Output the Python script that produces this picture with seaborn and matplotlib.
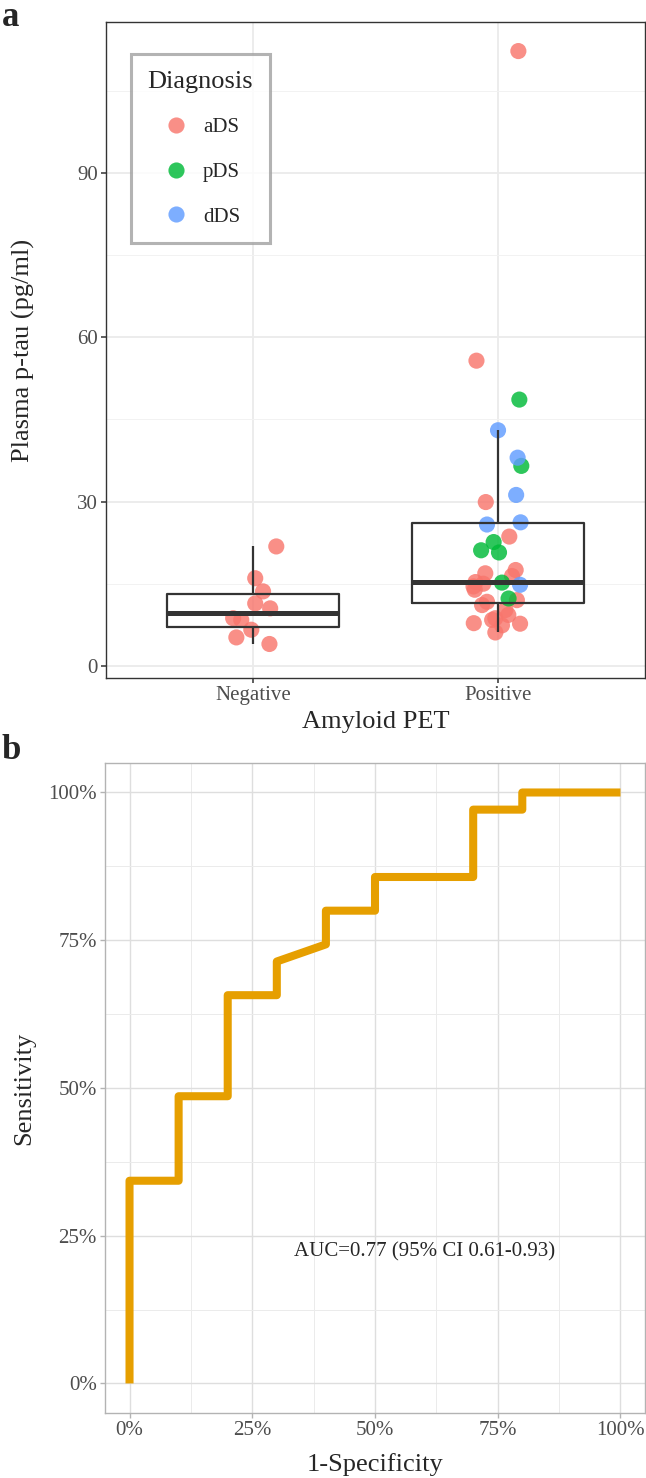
import pandas as pd
import matplotlib
matplotlib.use('Agg')
import matplotlib.pyplot as plt
from matplotlib.ticker import MultipleLocator, PercentFormatter
import seaborn as sns

# 设置Seaborn的样式
sns.set_theme(style="whitegrid")
plt.rcParams['font.family'] = ['Liberation Serif', 'DejaVu Serif']

# ---- panel a 数据 (读自图片) ----
neg_ptau = [21.8, 16.0, 13.6, 11.4, 10.5, 8.7, 8.4, 6.6, 5.2, 4.0]
neg_jit = [0.095, 0.009, 0.041, 0.009, 0.07, -0.081, -0.048, -0.007, -0.068, 0.067]

pos_ads_ptau = [112.2, 55.7, 29.9, 23.6, 17.5, 16.9, 16.4, 15.3, 15.0, 14.5, 13.9,
                12.0, 11.7, 11.1, 10.2, 9.3, 8.7, 8.4, 7.8, 7.7, 7.4, 6.1]
pos_ads_jit = [0.083, -0.088, -0.05, 0.046, 0.072, -0.052, 0.057, -0.092, -0.06, -0.1, -0.095,
               0.077, -0.045, -0.065, 0.03, 0.042, -0.011, -0.024, -0.099, 0.09, 0.016, -0.011]
pos_pds_ptau = [48.6, 36.5, 22.6, 21.1, 20.7, 15.2, 12.3]
pos_pds_jit = [0.087, 0.095, -0.018, -0.069, 0.004, 0.016, 0.043]
pos_dds_ptau = [43.0, 38.0, 31.2, 26.2, 25.8, 14.8]
pos_dds_jit = [0.0, 0.08, 0.074, 0.092, -0.045, 0.09]

pet_levels = ['Negative', 'Positive']
dx_levels = ['aDS', 'pDS', 'dDS']
dx_colors = ['#F8766D', '#00BA38', '#619CFF']

# ---- panel b 数据: ROC ----
fpr = [0, 0, 0.1, 0.1, 0.2, 0.2, 0.3, 0.3, 0.4, 0.4, 0.5, 0.5, 0.7, 0.7, 0.8, 0.8, 1.0]
tpr = [0, 0.343, 0.343, 0.486, 0.486, 0.657, 0.657, 0.714, 0.743, 0.80, 0.80,
       0.857, 0.857, 0.971, 0.971, 1.0, 1.0]
auc_label = 'AUC=0.77 (95% CI 0.61-0.93)'

# 合并数据
df = pd.concat([
    pd.DataFrame({'pet': 'Negative', 'ptau': neg_ptau, 'dx': 'aDS', 'jit': neg_jit}),
    pd.DataFrame({'pet': 'Positive', 'ptau': pos_ads_ptau, 'dx': 'aDS', 'jit': pos_ads_jit}),
    pd.DataFrame({'pet': 'Positive', 'ptau': pos_pds_ptau, 'dx': 'pDS', 'jit': pos_pds_jit}),
    pd.DataFrame({'pet': 'Positive', 'ptau': pos_dds_ptau, 'dx': 'dDS', 'jit': pos_dds_jit}),
], ignore_index=True)
df['xpos'] = df['pet'].map({k: i for i, k in enumerate(pet_levels)}) + df['jit']

fig = plt.figure(figsize=(6.46, 14.78), dpi=100)
ax1 = fig.add_axes([0.1641, 0.5413, 0.8344, 0.4438])
ax2 = fig.add_axes([0.1625, 0.044, 0.836, 0.4398])

tick_grey = '#4D4D4D'
tick_fs = 15
title_fs = 19

# ---- panel a ----
sns.boxplot(data=df, x='pet', y='ptau', order=pet_levels, width=0.7, fill=False,
            color='#333333', linewidth=1.6, showfliers=False, showcaps=False,
            medianprops=dict(linewidth=3.6, color='#333333'), ax=ax1)
sns.scatterplot(data=df, x='xpos', y='ptau', hue='dx', hue_order=dx_levels,
                palette=dx_colors, s=135, alpha=0.82, edgecolor='none', ax=ax1, zorder=1)
ax1.set_xticks([0, 1], pet_levels)
ax1.set_xlim(-0.6, 1.6)
ax1.set_ylim(-2.2, 117.5)
ax1.yaxis.set_major_locator(MultipleLocator(30))
ax1.yaxis.set_minor_locator(MultipleLocator(15))
ax1.grid(which='major', color='#EBEBEB', linewidth=1.3)
ax1.grid(which='minor', axis='y', color='#F2F2F2', linewidth=0.7)
ax1.set_axisbelow(True)
for s in ax1.spines.values():
    s.set_color('#333333')
    s.set_linewidth(1.0)
ax1.tick_params(axis='both', which='major', length=3.5, width=1.1, color='#333333',
                labelsize=tick_fs, labelcolor=tick_grey, pad=2.5, left=True, bottom=True)
ax1.tick_params(which='minor', length=0)
ax1.set_xlabel('Amyloid PET', fontsize=title_fs)
ax1.set_ylabel('Plasma p-tau (pg/ml)', fontsize=title_fs)
ax1.xaxis.set_label_coords(0.5, -0.051)
ax1.yaxis.set_label_coords(-0.131, 0.5)

handles, labels = ax1.get_legend_handles_labels()
leg = ax1.legend(handles, labels, title='Diagnosis', loc='upper left',
                 bbox_to_anchor=(0.0464, 0.951), borderaxespad=0, frameon=True,
                 fancybox=False, fontsize=tick_fs, title_fontsize=title_fs,
                 labelspacing=1.2, handletextpad=0.6, handlelength=1.4, borderpad=0.8)
leg.get_frame().set_edgecolor('#A0A0A0')
leg.get_frame().set_linewidth(2.2)

# ---- panel b ----
sns.lineplot(x=fpr, y=tpr, sort=False, estimator=None, color='#E69F00', linewidth=5.8,
             ax=ax2, solid_joinstyle='round', solid_capstyle='butt')
ax2.set_xlim(-0.05, 1.05)
ax2.set_ylim(-0.05, 1.05)
for axis in (ax2.xaxis, ax2.yaxis):
    axis.set_major_locator(MultipleLocator(0.25))
    axis.set_minor_locator(MultipleLocator(0.125))
    axis.set_major_formatter(PercentFormatter(1.0, decimals=0))
ax2.grid(which='major', color='#DEDEDE', linewidth=1.0)
ax2.grid(which='minor', color='#EBEBEB', linewidth=0.7)
ax2.set_axisbelow(True)
for s in ax2.spines.values():
    s.set_color('#B3B3B3')
    s.set_linewidth(1.0)
ax2.tick_params(axis='both', which='major', length=3.5, width=1.0, color='#B3B3B3',
                labelsize=tick_fs, labelcolor=tick_grey, pad=2.5, left=True, bottom=True)
ax2.tick_params(which='minor', length=0)
ax2.text(0.6, 0.223, auc_label, ha='center', va='center', fontsize=15)
ax2.set_xlabel('1-Specificity', fontsize=title_fs)
ax2.set_ylabel('Sensitivity', fontsize=title_fs)
ax2.xaxis.set_label_coords(0.5, -0.061)
ax2.yaxis.set_label_coords(-0.129, 0.5)

# 面板标签
fig.text(0.003, 0.999, 'a', fontsize=25, fontweight='bold', va='top', ha='left')
fig.text(0.003, 0.5035, 'b', fontsize=25, fontweight='bold', va='top', ha='left')

plt.savefig('out.png', dpi=100)
